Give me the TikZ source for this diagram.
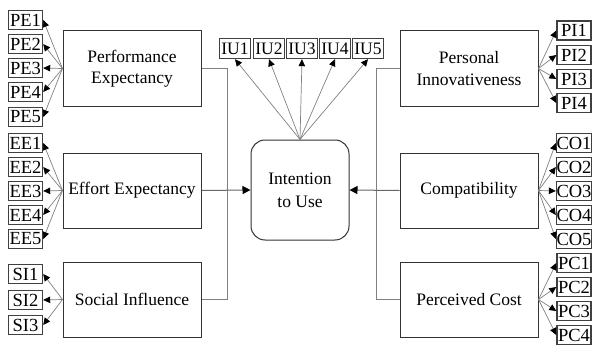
\documentclass[tikz,border=0pt]{standalone}
\usepackage{fontspec}
\setmainfont{Liberation Serif}
\usetikzlibrary{arrows.meta}
\begin{document}
\begin{tikzpicture}[x=1pt,y=-1pt,
  item/.style={draw=black!75,line width=1.4pt,minimum width=34pt,minimum height=19pt,inner sep=0pt,font=\fontsize{18.5}{18.5}\selectfont},
  mainbox/.style={draw=black!80,line width=1pt,minimum width=138pt,minimum height=75pt,align=center,font=\fontsize{17.5}{21.5}\selectfont},
  conn/.style={draw=black!50,line width=1pt},
  arr/.style={draw=black!50,line width=0.7pt,-{Triangle[length=7pt,width=6.5pt,fill=black,color=black]}},
  iarr/.style={draw=black!60,line width=1pt,-{Triangle[length=8pt,width=8pt,fill=black,color=black]}}]
\useasboundingbox (0,0) rectangle (592,345);
% main boxes
\node[mainbox] (pe) at (132,68.5) {Performance\\Expectancy};
\node[mainbox] (ee) at (132,190.5) {Effort Expectancy};
\node[mainbox] (si) at (132,299.5) {Social Influence};
\node[mainbox] (pi) at (469,68.5) {Personal\\Innovativeness};
\node[mainbox] (co) at (469,190.5) {Compatibility};
\node[mainbox] (pc) at (469,299.5) {Perceived Cost};
\node[draw=black!80,line width=1pt,rounded corners=14pt,minimum width=98pt,minimum height=100pt,align=center,font=\fontsize{17.5}{23}\selectfont] (iu) at (300,190) {Intention\\to Use};
% left items
\foreach \n/\y in {1/20,2/44,3/68,4/92,5/117}{
  \node[item] (pe\n) at (25.5,\y) {PE\n};
  \draw[arr] (pe.west) -- (pe\n.east);}
\foreach \n/\y in {1/143,2/167,3/191,4/215,5/239}{
  \node[item] (ee\n) at (25.5,\y) {EE\n};
  \draw[arr] (ee.west) -- (ee\n.east);}
\foreach \n/\y in {1/274,2/300,3/325}{
  \node[item] (si\n) at (25.5,\y) {SI\n};
  \draw[arr] (si.west) -- (si\n.east);}
% right items
\foreach \n/\y in {1/30.5,2/55,3/79,4/103}{
  \node[item] (pi\n) at (574,\y) {PI\n};
  \draw[arr] (pi.east) -- (pi\n.west);}
\foreach \n/\y in {1/143,2/167,3/191,4/215,5/239}{
  \node[item] (co\n) at (574,\y) {CO\n};
  \draw[arr] (co.east) -- (co\n.west);}
\foreach \n/\y in {1/263,2/287,3/311,4/335}{
  \node[item] (pc\n) at (574,\y) {PC\n};
  \draw[arr] (pc.east) -- (pc\n.west);}
% IU items
\foreach \n/\x in {1/235,2/269,3/302,4/335,5/368}{
  \node[item,minimum width=31pt,minimum height=20pt,font=\fontsize{17.5}{17.5}\selectfont] (iux\n) at (\x,48.5) {IU\n};
  \draw[arr] (iu.north) -- (iux\n.south);}
% connectors
\coordinate (lx) at (227,0);
\coordinate (rx) at (376,0);
\draw[conn] (pe.east) -- (pe.east -| lx) |- (si.east);
\draw[conn] (pi.west) -- (pi.west -| rx) |- (pc.west);
\draw[iarr] (ee.east) -- (iu.west);
\draw[iarr] (co.west) -- (iu.east);
\end{tikzpicture}
\end{document}
